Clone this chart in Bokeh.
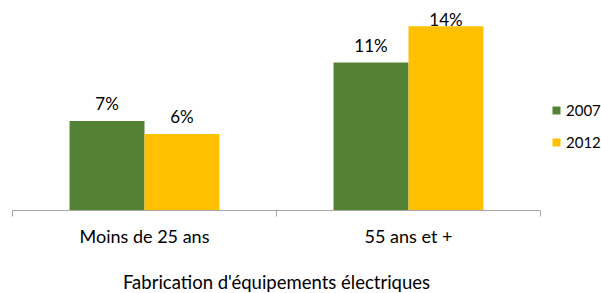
import numpy as np
from bokeh.plotting import figure
from bokeh.layouts import column
from bokeh.models import Range1d, FixedTicker, Legend, LegendItem
from bokeh.core.properties import value
from bokeh.embed import file_html
from bokeh.resources import INLINE

# ---- data ----
categories = ["Moins de 25 ans", "55 ans et +"]
years = ["2007", "2012"]
values_2007 = [6.9, 11.4]
values_2012 = [5.9, 14.2]
x_title = "Fabrication d'équipements électriques"
colors = ["#548235", "#FFC000"]

# ---- style / layout ----
FONT = "Lato"
W = 601
H_MAIN, H_TITLE = 257, 36
LEFT, AXIS_RIGHT, BOTTOM = 12, 540, 47
n = len(categories)
X_END = n * (W - LEFT) / (AXIS_RIGHT - LEFT)   # extra room on the right for the legend
Y_END = 16.18
BAR_W = 0.284
LABEL_GAP = 1.31
LABEL_CAP = 14.71
TITLE_Y = 12
AXIS_COLOR = "#a6a6a6"

p = figure(width=W, height=H_MAIN,
           x_range=Range1d(0, X_END), y_range=Range1d(0, Y_END),
           output_backend="svg", toolbar_location=None,
           min_border_left=LEFT, min_border_right=0,
           min_border_top=0, min_border_bottom=BOTTOM)

p.xgrid.visible = False
p.ygrid.visible = False
p.outline_line_color = None
p.yaxis.visible = False

renderers = []
centers = np.arange(n) + 0.5
for j, (year, vals) in enumerate(zip(years, [values_2007, values_2012])):
    xs = centers + (j - 0.5) * BAR_W
    r = p.vbar(x=xs, top=vals, width=BAR_W, fill_color=colors[j], line_color=None)
    renderers.append(r)
    p.text(x=xs, y=np.minimum(np.array(vals) + LABEL_GAP, LABEL_CAP),
           text=[f"{v:.0f}%" for v in vals],
           text_align="center", text_baseline="middle",
           text_font=value(FONT), text_font_size="17px", text_color="#000000")

xa = p.xaxis[0]
xa.bounds = (0, n)
xa.ticker = FixedTicker(ticks=[float(c) for c in centers],
                        minor_ticks=[float(i) for i in range(n + 1)])
xa.major_label_overrides = {float(c): cat for c, cat in zip(centers, categories)}
xa.major_tick_in = 0
xa.major_tick_out = 0
xa.major_tick_line_color = None
xa.minor_tick_in = 0
xa.minor_tick_out = 6
xa.minor_tick_line_color = AXIS_COLOR
xa.axis_line_color = AXIS_COLOR
xa.major_label_text_font = FONT
xa.major_label_text_font_size = "18px"
xa.major_label_text_color = "#000000"
xa.major_label_standoff = 8

legend = Legend(items=[LegendItem(label=y, renderers=[r]) for y, r in zip(years, renderers)],
                location=(539, 58), orientation="vertical",
                glyph_width=10, glyph_height=10, label_standoff=5,
                spacing=12, padding=0, margin=0, label_height=20,
                border_line_alpha=0, background_fill_alpha=0,
                label_text_font=FONT, label_text_font_size="15px",
                label_text_color="#000000")
p.add_layout(legend)

# ---- chart title under the axis (its own strip, sharing the x scale) ----
t = figure(width=W, height=H_TITLE, x_range=p.x_range, y_range=Range1d(0, H_TITLE),
           output_backend="svg", toolbar_location=None,
           min_border_left=LEFT, min_border_right=0,
           min_border_top=0, min_border_bottom=0)
t.xaxis.visible = False
t.yaxis.visible = False
t.xgrid.visible = False
t.ygrid.visible = False
t.outline_line_color = None
t.text(x=[n / 2], y=[TITLE_Y], text=[x_title],
       text_align="center", text_baseline="middle",
       text_font=value(FONT), text_font_size="18.5px", text_color="#000000")

open("out.html", "w").write(file_html(column(p, t), INLINE))
